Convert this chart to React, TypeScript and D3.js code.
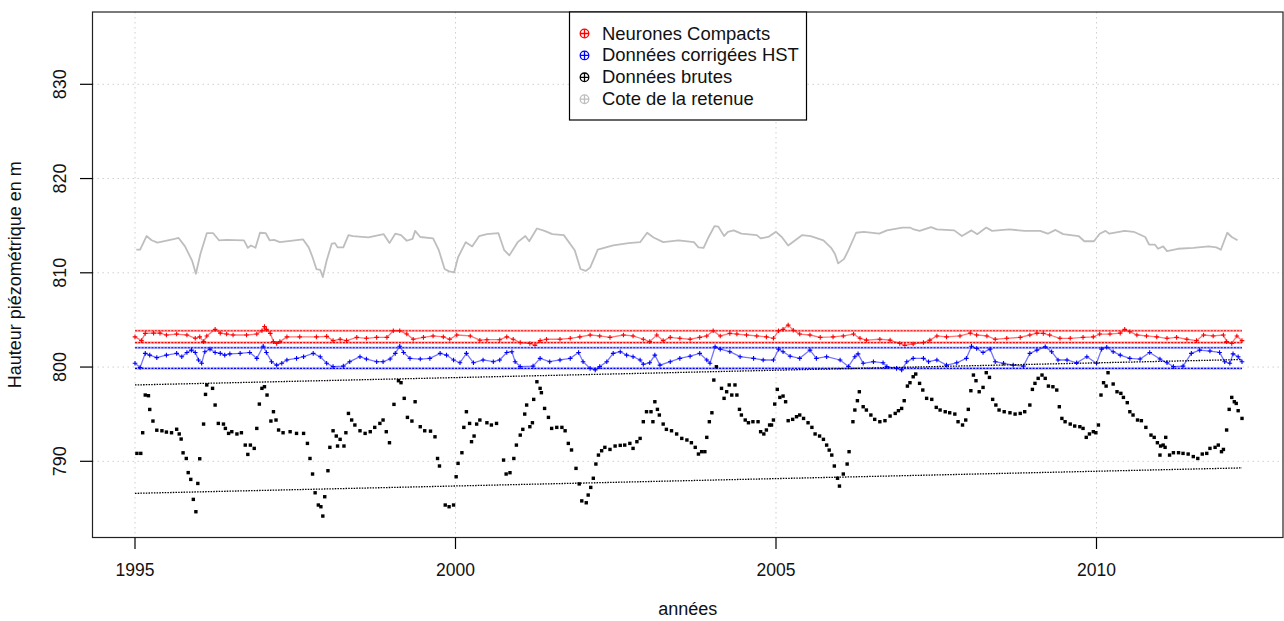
import React from "react";
import * as d3 from "d3";

// Reservoir level (Cote de la retenue), [year, m]
const retenue: [number, number][] = [
  [1995.02, 812.45], [1995.08, 812.45], [1995.18, 813.9], [1995.26, 813.45], [1995.35, 813.2],
  [1995.62, 813.6], [1995.68, 813.7], [1995.78, 812.8], [1995.89, 811.3], [1995.95, 809.9],
  [1996.02, 812.0], [1996.12, 814.2], [1996.22, 814.2], [1996.31, 813.45], [1996.43, 813.5],
  [1996.7, 813.45], [1996.76, 812.65], [1996.81, 812.9], [1996.88, 812.65], [1996.95, 814.25],
  [1997.04, 814.2], [1997.1, 813.45], [1997.17, 813.5], [1997.26, 813.25], [1997.62, 813.55],
  [1997.71, 812.7], [1997.77, 811.65], [1997.83, 810.4], [1997.89, 810.3], [1997.93, 809.55],
  [1997.99, 811.3], [1998.07, 813.1], [1998.12, 813.15], [1998.16, 812.7], [1998.25, 812.7],
  [1998.33, 814.0], [1998.4, 813.9], [1998.64, 813.75], [1998.88, 814.1], [1998.97, 813.15],
  [1999.06, 814.15], [1999.15, 814.0], [1999.24, 813.4], [1999.33, 813.6], [1999.37, 814.45],
  [1999.45, 813.8], [1999.65, 813.65], [1999.74, 812.4], [1999.83, 810.4], [1999.9, 810.15],
  [1999.98, 810.05], [2000.04, 811.65], [2000.16, 813.25], [2000.26, 812.8], [2000.37, 813.9],
  [2000.49, 814.1], [2000.67, 814.2], [2000.76, 812.4], [2000.84, 811.85], [2000.97, 813.25],
  [2001.09, 813.9], [2001.15, 813.35], [2001.27, 814.7], [2001.39, 814.45], [2001.51, 814.1],
  [2001.69, 814.0], [2001.86, 812.4], [2001.95, 810.4], [2002.03, 810.2], [2002.1, 810.55],
  [2002.22, 812.45], [2002.46, 812.9], [2002.7, 813.15], [2002.88, 813.25], [2002.99, 814.25],
  [2003.09, 813.75], [2003.24, 813.25], [2003.48, 813.45], [2003.72, 813.25], [2003.79, 812.7],
  [2003.87, 812.65], [2003.95, 813.8], [2004.04, 814.95], [2004.1, 814.9], [2004.19, 813.9],
  [2004.25, 814.35], [2004.34, 814.5], [2004.46, 814.15], [2004.7, 814.0], [2004.76, 813.65],
  [2004.88, 813.8], [2005.0, 814.35], [2005.09, 813.8], [2005.19, 812.9], [2005.3, 813.45],
  [2005.41, 814.0], [2005.54, 813.9], [2005.74, 813.45], [2005.86, 812.65], [2005.92, 812.0],
  [2005.97, 811.0], [2006.06, 811.45], [2006.13, 812.4], [2006.25, 814.25], [2006.37, 814.35],
  [2006.61, 814.15], [2006.73, 814.5], [2006.97, 814.8], [2007.09, 814.8], [2007.15, 814.6],
  [2007.24, 814.45], [2007.42, 814.85], [2007.51, 814.6], [2007.78, 814.5], [2007.9, 813.9],
  [2008.05, 814.5], [2008.14, 814.1], [2008.28, 814.8], [2008.37, 814.45], [2008.64, 814.6],
  [2008.88, 814.45], [2009.12, 814.45], [2009.24, 814.15], [2009.36, 814.55], [2009.48, 814.1],
  [2009.72, 813.9], [2009.81, 813.35], [2009.96, 813.35], [2010.05, 814.15], [2010.14, 814.45],
  [2010.2, 814.15], [2010.44, 814.45], [2010.58, 814.35], [2010.76, 813.8], [2010.82, 813.0],
  [2010.91, 813.0], [2010.96, 812.55], [2011.04, 812.8], [2011.1, 812.3], [2011.27, 812.55],
  [2011.51, 812.65], [2011.75, 812.8], [2011.87, 812.7], [2011.94, 812.45], [2012.04, 814.25],
  [2012.11, 813.8], [2012.2, 813.45],
];

// Neurones Compacts model output
const neurones: [number, number][] = [
  [1995.0, 803.2], [1995.1, 802.8], [1995.16, 803.57], [1995.29, 803.6], [1995.39, 803.6],
  [1995.49, 803.4], [1995.65, 803.5], [1995.81, 803.4], [1995.94, 803.05], [1996.01, 803.2],
  [1996.07, 802.7], [1996.12, 803.3], [1996.25, 804.0], [1996.33, 803.6], [1996.43, 803.5],
  [1996.53, 803.4], [1996.74, 803.4], [1996.9, 803.5], [1996.98, 803.85], [1997.02, 804.3],
  [1997.05, 804.0], [1997.11, 803.57], [1997.16, 802.7], [1997.21, 802.5], [1997.26, 802.7],
  [1997.37, 803.2], [1997.57, 803.2], [1997.83, 803.2], [1997.99, 803.25], [1998.09, 802.8],
  [1998.2, 802.95], [1998.3, 802.8], [1998.46, 803.15], [1998.61, 803.05], [1998.77, 803.15],
  [1998.93, 803.15], [1999.03, 803.85], [1999.13, 803.85], [1999.24, 803.5], [1999.34, 802.95],
  [1999.5, 803.15], [1999.65, 803.3], [1999.81, 803.2], [1999.91, 802.95], [2000.02, 803.4],
  [2000.23, 803.3], [2000.38, 802.85], [2000.49, 802.9], [2000.69, 802.9], [2000.8, 803.2],
  [2000.9, 802.95], [2001.01, 802.6], [2001.16, 802.5], [2001.24, 802.3], [2001.32, 802.8],
  [2001.42, 802.95], [2001.63, 802.95], [2001.79, 803.05], [2001.94, 803.2], [2002.1, 803.4],
  [2002.25, 803.3], [2002.41, 803.15], [2002.62, 803.4], [2002.77, 803.3], [2002.93, 802.95],
  [2003.03, 802.7], [2003.14, 803.4], [2003.24, 802.8], [2003.35, 803.15], [2003.5, 803.05],
  [2003.66, 802.95], [2003.81, 803.15], [2003.92, 803.3], [2004.02, 803.85], [2004.13, 803.3],
  [2004.28, 803.57], [2004.39, 803.5], [2004.54, 803.4], [2004.7, 803.3], [2004.85, 803.2],
  [2004.96, 803.05], [2005.04, 803.85], [2005.11, 804.0], [2005.19, 804.45], [2005.27, 803.9],
  [2005.37, 803.5], [2005.53, 803.4], [2005.69, 803.15], [2005.89, 803.2], [2006.05, 803.3],
  [2006.21, 803.5], [2006.31, 803.05], [2006.41, 802.86], [2006.62, 802.95], [2006.78, 802.86],
  [2006.93, 802.5], [2007.01, 802.3], [2007.14, 802.45], [2007.3, 802.6], [2007.4, 802.86],
  [2007.51, 803.3], [2007.66, 803.2], [2007.87, 803.3], [2008.03, 803.6], [2008.13, 803.4],
  [2008.29, 803.3], [2008.42, 802.95], [2008.6, 803.05], [2008.81, 803.15], [2008.96, 803.4],
  [2009.07, 803.6], [2009.17, 803.57], [2009.27, 803.4], [2009.43, 803.05], [2009.59, 803.05],
  [2009.79, 803.15], [2009.95, 803.2], [2010.05, 803.5], [2010.21, 803.5], [2010.37, 803.6],
  [2010.44, 804.0], [2010.52, 803.75], [2010.63, 803.4], [2010.78, 803.3], [2010.94, 803.2],
  [2011.1, 803.05], [2011.25, 803.15], [2011.41, 802.95], [2011.56, 802.8], [2011.67, 803.4],
  [2011.82, 803.3], [2011.98, 803.4], [2012.03, 802.7], [2012.11, 802.5], [2012.19, 803.3],
  [2012.27, 802.8],
];

// Données corrigées HST
const corrigees: [number, number][] = [
  [1995.0, 800.4], [1995.08, 799.95], [1995.16, 801.45], [1995.23, 801.27], [1995.34, 801.0],
  [1995.49, 801.27], [1995.65, 801.45], [1995.73, 801.1], [1995.81, 801.55], [1995.88, 801.8],
  [1995.94, 801.55], [1995.99, 800.75], [1996.04, 800.4], [1996.09, 801.63], [1996.17, 801.9],
  [1996.25, 801.55], [1996.33, 801.45], [1996.4, 801.27], [1996.48, 801.4], [1996.64, 801.45],
  [1996.79, 801.55], [1996.9, 800.92], [1997.0, 802.2], [1997.05, 801.55], [1997.13, 800.57],
  [1997.21, 800.2], [1997.29, 800.4], [1997.37, 800.75], [1997.52, 800.92], [1997.63, 801.1],
  [1997.78, 801.45], [1997.89, 801.1], [1997.99, 800.4], [1998.09, 800.05], [1998.25, 800.1],
  [1998.35, 800.57], [1998.51, 801.1], [1998.61, 800.85], [1998.77, 800.57], [1998.87, 800.57],
  [1998.98, 800.85], [1999.06, 801.45], [1999.13, 802.2], [1999.19, 801.55], [1999.29, 800.92],
  [1999.45, 800.85], [1999.6, 800.92], [1999.76, 801.45], [1999.86, 801.27], [1999.97, 800.75],
  [2000.07, 800.45], [2000.17, 801.45], [2000.28, 800.45], [2000.43, 800.75], [2000.59, 800.57],
  [2000.69, 800.75], [2000.8, 801.55], [2000.88, 801.63], [2000.93, 800.57], [2001.01, 800.05],
  [2001.21, 800.1], [2001.32, 800.92], [2001.47, 800.57], [2001.63, 800.75], [2001.79, 800.92],
  [2001.92, 801.55], [2001.99, 800.57], [2002.1, 799.86], [2002.18, 799.7], [2002.25, 800.05],
  [2002.36, 800.57], [2002.46, 801.45], [2002.57, 801.63], [2002.67, 801.27], [2002.77, 801.1],
  [2002.88, 800.75], [2002.93, 800.3], [2003.03, 800.45], [2003.11, 801.27], [2003.19, 800.2],
  [2003.35, 800.57], [2003.5, 800.92], [2003.66, 801.15], [2003.81, 801.45], [2003.92, 800.75],
  [2003.97, 800.4], [2004.05, 802.15], [2004.13, 801.9], [2004.28, 801.63], [2004.44, 801.1],
  [2004.65, 800.92], [2004.8, 800.75], [2004.96, 800.75], [2005.04, 801.9], [2005.11, 801.63],
  [2005.22, 801.15], [2005.37, 800.92], [2005.53, 801.8], [2005.63, 800.92], [2005.79, 801.1],
  [2006.0, 800.75], [2006.13, 800.05], [2006.23, 801.1], [2006.28, 801.4], [2006.36, 800.4],
  [2006.52, 800.57], [2006.67, 800.45], [2006.73, 800.05], [2006.88, 799.86], [2006.96, 799.7],
  [2007.04, 800.57], [2007.14, 800.92], [2007.3, 800.92], [2007.38, 800.57], [2007.51, 800.75],
  [2007.66, 800.2], [2007.82, 800.45], [2007.97, 800.92], [2008.05, 802.2], [2008.13, 801.97],
  [2008.23, 801.55], [2008.34, 801.9], [2008.42, 800.57], [2008.55, 800.4], [2008.7, 800.2],
  [2008.86, 800.1], [2008.96, 801.45], [2009.07, 801.8], [2009.2, 802.15], [2009.3, 801.63],
  [2009.4, 800.75], [2009.54, 800.75], [2009.69, 800.45], [2009.85, 801.1], [2010.0, 800.4],
  [2010.08, 801.9], [2010.16, 802.1], [2010.26, 801.63], [2010.37, 801.27], [2010.52, 800.92],
  [2010.68, 800.85], [2010.83, 801.55], [2010.99, 800.85], [2011.1, 800.45], [2011.2, 800.05],
  [2011.35, 800.1], [2011.48, 801.45], [2011.61, 801.8], [2011.77, 801.7], [2011.92, 801.55],
  [2012.0, 800.57], [2012.08, 800.4], [2012.13, 801.4], [2012.21, 801.1], [2012.27, 800.57],
];

// Données brutes
const brutes: [number, number][] = [
  [1995.03, 790.84], [1995.09, 790.84], [1995.12, 793.03], [1995.16, 797.03], [1995.21, 796.96],
  [1995.23, 795.5], [1995.28, 794.27], [1995.34, 793.3], [1995.42, 793.24], [1995.49, 793.1],
  [1995.57, 793.03], [1995.65, 793.4], [1995.69, 792.9], [1995.72, 792.36], [1995.75, 790.9],
  [1995.8, 790.3], [1995.83, 788.8], [1995.87, 788.08], [1995.91, 785.96], [1995.95, 784.65],
  [1995.98, 787.65], [1996.01, 790.27], [1996.07, 793.95], [1996.1, 797.1], [1996.12, 798.1],
  [1996.21, 797.74], [1996.25, 795.97], [1996.3, 794.02], [1996.38, 793.95], [1996.41, 793.49],
  [1996.46, 792.96], [1996.51, 793.14], [1996.59, 792.9], [1996.66, 793.03], [1996.72, 791.72],
  [1996.76, 790.73], [1996.8, 791.72], [1996.86, 791.37], [1996.9, 793.49], [1996.94, 796.07],
  [1996.98, 797.74], [1997.02, 797.91], [1997.06, 797.03], [1997.12, 794.27], [1997.16, 795.26],
  [1997.2, 794.38], [1997.24, 793.32], [1997.31, 793.03], [1997.42, 793.14], [1997.52, 792.96],
  [1997.63, 792.96], [1997.69, 791.9], [1997.73, 790.3], [1997.77, 788.65], [1997.81, 786.66],
  [1997.86, 785.36], [1997.9, 785.18], [1997.93, 784.19], [1997.96, 786.24], [1998.01, 789.0],
  [1998.04, 791.48], [1998.09, 793.24], [1998.14, 792.68], [1998.16, 791.62], [1998.2, 792.33],
  [1998.26, 791.62], [1998.29, 793.03], [1998.33, 795.08], [1998.38, 794.38], [1998.43, 793.85],
  [1998.51, 793.24], [1998.59, 792.96], [1998.67, 793.14], [1998.74, 793.6], [1998.82, 794.02],
  [1998.87, 794.38], [1998.92, 793.14], [1998.97, 791.97], [1999.04, 796.04], [1999.11, 798.55],
  [1999.15, 798.34], [1999.2, 796.68], [1999.25, 794.66], [1999.32, 794.27], [1999.37, 796.32],
  [1999.45, 793.67], [1999.52, 793.24], [1999.61, 793.2], [1999.68, 792.6], [1999.72, 790.3],
  [1999.75, 789.5], [1999.84, 785.36], [1999.9, 785.18], [1999.97, 785.36], [2000.01, 788.36],
  [2000.04, 789.78], [2000.1, 790.91], [2000.13, 793.6], [2000.17, 795.26], [2000.22, 794.02],
  [2000.25, 792.08], [2000.29, 792.68], [2000.33, 793.95], [2000.38, 794.38], [2000.49, 794.09],
  [2000.56, 793.85], [2000.64, 794.02], [2000.75, 790.13], [2000.79, 788.65], [2000.85, 788.79],
  [2000.91, 790.3], [2000.95, 791.72], [2001.01, 792.78], [2001.05, 793.39], [2001.08, 795.01],
  [2001.11, 795.97], [2001.16, 793.67], [2001.2, 794.09], [2001.22, 796.57], [2001.27, 798.44],
  [2001.32, 797.74], [2001.34, 797.28], [2001.39, 795.61], [2001.45, 794.66], [2001.5, 793.49],
  [2001.58, 793.6], [2001.66, 793.6], [2001.71, 793.24], [2001.76, 791.9], [2001.81, 791.2],
  [2001.88, 789.25], [2001.93, 787.6], [2001.97, 785.8], [2002.04, 785.6], [2002.07, 786.42],
  [2002.11, 787.23], [2002.15, 788.2], [2002.19, 789.71], [2002.23, 790.66], [2002.28, 791.12],
  [2002.33, 791.48], [2002.41, 791.26], [2002.49, 791.62], [2002.57, 791.69], [2002.64, 791.72],
  [2002.72, 791.9], [2002.77, 791.37], [2002.83, 792.08], [2002.88, 792.43], [2002.93, 794.2],
  [2002.98, 795.26], [2003.05, 795.26], [2003.08, 794.2], [2003.11, 796.32], [2003.15, 795.51],
  [2003.18, 794.91], [2003.24, 793.95], [2003.29, 793.39], [2003.37, 793.24], [2003.45, 792.9],
  [2003.53, 792.43], [2003.61, 792.26], [2003.68, 791.97], [2003.74, 791.48], [2003.79, 790.77],
  [2003.84, 791.02], [2003.89, 791.02], [2003.92, 792.54], [2003.96, 794.2], [2004.0, 795.15],
  [2004.03, 798.62], [2004.07, 800.03], [2004.15, 797.74], [2004.19, 796.68], [2004.23, 797.38],
  [2004.27, 798.1], [2004.31, 797.03], [2004.36, 798.1], [2004.39, 797.03], [2004.43, 795.51],
  [2004.46, 794.91], [2004.52, 794.38], [2004.57, 794.09], [2004.64, 794.2], [2004.72, 794.2],
  [2004.76, 793.14], [2004.81, 792.9], [2004.85, 793.32], [2004.9, 793.85], [2004.93, 793.85],
  [2004.96, 794.38], [2004.98, 796.07], [2005.02, 797.63], [2005.06, 796.78], [2005.11, 796.92],
  [2005.15, 796.32], [2005.19, 794.31], [2005.26, 794.45], [2005.32, 794.73], [2005.37, 794.91],
  [2005.43, 794.55], [2005.5, 794.09], [2005.56, 793.6], [2005.61, 792.9], [2005.68, 792.68],
  [2005.74, 792.33], [2005.79, 791.72], [2005.83, 791.19], [2005.87, 790.66], [2005.91, 789.5],
  [2005.96, 788.2], [2005.99, 787.37], [2006.05, 788.65], [2006.11, 789.71], [2006.14, 791.02],
  [2006.2, 794.2], [2006.23, 795.44], [2006.27, 796.43], [2006.3, 797.38], [2006.36, 795.79],
  [2006.41, 795.44], [2006.48, 794.91], [2006.54, 794.45], [2006.62, 794.2], [2006.7, 794.31],
  [2006.78, 794.8], [2006.86, 795.08], [2006.91, 795.37], [2006.96, 795.61], [2007.0, 796.43],
  [2007.05, 797.98], [2007.09, 798.34], [2007.14, 798.97], [2007.18, 799.26], [2007.24, 798.27],
  [2007.29, 797.56], [2007.35, 796.68], [2007.43, 796.57], [2007.5, 795.72], [2007.56, 795.44],
  [2007.64, 795.26], [2007.71, 795.15], [2007.79, 795.01], [2007.84, 794.2], [2007.91, 793.85],
  [2007.96, 794.38], [2008.0, 795.51], [2008.04, 797.49], [2008.08, 799.15], [2008.12, 798.55],
  [2008.17, 797.38], [2008.23, 797.84], [2008.28, 799.4], [2008.33, 798.9], [2008.38, 796.57],
  [2008.43, 795.97], [2008.48, 795.44], [2008.56, 795.26], [2008.65, 795.15], [2008.73, 795.01],
  [2008.81, 795.08], [2008.88, 795.26], [2008.96, 795.97], [2009.0, 797.63], [2009.04, 798.27],
  [2009.09, 798.8], [2009.15, 799.15], [2009.2, 798.8], [2009.25, 797.98], [2009.32, 797.91],
  [2009.38, 797.56], [2009.42, 795.79], [2009.46, 794.55], [2009.51, 794.2], [2009.59, 793.95],
  [2009.66, 793.74], [2009.74, 793.67], [2009.79, 793.49], [2009.84, 792.54], [2009.89, 792.9],
  [2009.95, 793.14], [2009.99, 793.03], [2010.03, 793.85], [2010.07, 797.03], [2010.11, 798.34],
  [2010.15, 797.98], [2010.18, 799.4], [2010.26, 798.2], [2010.32, 797.38], [2010.38, 797.21],
  [2010.42, 796.78], [2010.48, 796.22], [2010.52, 795.26], [2010.57, 794.91], [2010.64, 794.38],
  [2010.7, 794.31], [2010.77, 793.6], [2010.85, 792.78], [2010.9, 792.54], [2010.95, 791.97],
  [2010.99, 790.66], [2011.0, 791.62], [2011.04, 791.72], [2011.07, 791.48], [2011.08, 792.54],
  [2011.14, 790.66], [2011.2, 790.91], [2011.28, 790.91], [2011.35, 790.84], [2011.43, 790.77],
  [2011.51, 790.5], [2011.58, 790.3], [2011.65, 790.77], [2011.72, 790.84], [2011.77, 791.37],
  [2011.85, 791.48], [2011.9, 791.72], [2011.95, 791.02], [2011.98, 791.26], [2012.03, 793.32],
  [2012.07, 795.51], [2012.11, 796.78], [2012.15, 796.32], [2012.18, 796.14], [2012.21, 795.37],
  [2012.27, 794.55],
];

// Envelopes around the series (start / end of the record)
const bandYears = [1995.0, 2012.27];
const neuronesBand = [803.85, 802.6];
const corrigeesBand = [802.05, 799.85];
const brutesUpper = [798.1, 800.8];
const brutesLower = [786.6, 789.3];

const xTicks = [1995, 2000, 2005, 2010];
const yTicks = [790, 800, 810, 820, 830];

const legendItems = [
  { label: "Neurones Compacts", color: "#ff0000" },
  { label: "Données corrigées HST", color: "#0000ff" },
  { label: "Données brutes", color: "#000000" },
  { label: "Cote de la retenue", color: "#bebebe" },
];

const W = 1284;
const H = 621;
const frame = { left: 92.5, right: 1283, top: 12, bottom: 537.5 };
const FONT = "'Liberation Sans', Arial, sans-serif";

export default function App() {
  const x = d3.scaleLinear().domain([1995, 2010]).range([135, 1096.5]);
  const y = d3.scaleLinear().domain([790, 830]).range([461.3, 84.3]);

  const line = d3
    .line<[number, number]>()
    .x((d) => x(d[0]))
    .y((d) => y(d[1]));

  const plus = (cx: number, cy: number, s: number) =>
    `M${cx - s},${cy}H${cx + s}M${cx},${cy - s}V${cy + s}`;

  const hLine = (v: number) =>
    line([
      [bandYears[0], v],
      [bandYears[1], v],
    ]);

  const envLine = (vals: number[]) =>
    line([
      [bandYears[0], vals[0]],
      [bandYears[1], vals[1]],
    ]);

  const redPath = neurones.map((d) => plus(x(d[0]), y(d[1]), 2.3)).join("");
  const bluePath = corrigees.map((d) => plus(x(d[0]), y(d[1]), 2.3)).join("");

  return (
    <svg
      width={W}
      height={H}
      style={{ position: "absolute", left: 0, top: 0, display: "block", background: "#fff" }}
      fontFamily={FONT}
    >
      <rect x={0} y={0} width={W} height={H} fill="#fff" />

      {/* grid */}
      <g stroke="#cfcfcf" strokeWidth={1} strokeDasharray="1.5 3.5">
        {yTicks.map((t) => (
          <line key={"gy" + t} x1={frame.left} x2={frame.right} y1={y(t)} y2={y(t)} />
        ))}
        {xTicks.map((t) => (
          <line key={"gx" + t} x1={x(t)} x2={x(t)} y1={frame.top} y2={frame.bottom} />
        ))}
      </g>

      {/* reservoir level */}
      <path d={line(retenue) || ""} fill="none" stroke="#bebebe" strokeWidth={1.8} strokeLinejoin="round" />

      {/* Neurones Compacts envelope and values */}
      <g fill="none">
        {neuronesBand.map((v, i) => (
          <g key={"nb" + i}>
            <path d={hLine(v) || ""} stroke="#ffb0b0" strokeWidth={2.4} />
            <path d={hLine(v) || ""} stroke="#ff0000" strokeWidth={1.2} strokeDasharray="2 1.3" />
          </g>
        ))}
        <path d={line(neurones) || ""} stroke="#ff0000" strokeWidth={1.3} opacity={0.55} />
        <path d={redPath} stroke="#ff0000" strokeWidth={1.1} />
      </g>

      {/* Données corrigées HST envelope and values */}
      <g fill="none">
        {corrigeesBand.map((v, i) => (
          <g key={"cb" + i}>
            <path d={hLine(v) || ""} stroke="#b8b8ff" strokeWidth={2.6} />
            <path d={hLine(v) || ""} stroke="#0000ff" strokeWidth={1.2} strokeDasharray="2 1.3" />
          </g>
        ))}
        <path d={line(corrigees) || ""} stroke="#0000ff" strokeWidth={1.3} opacity={0.55} />
        <path d={bluePath} stroke="#0000ff" strokeWidth={1.1} />
      </g>

      {/* Données brutes envelope and values */}
      <g fill="none" stroke="#000">
        <path d={envLine(brutesUpper) || ""} strokeWidth={1.3} strokeDasharray="1.5 1.2" />
        <path d={envLine(brutesLower) || ""} strokeWidth={1.3} strokeDasharray="1.5 1.2" />
      </g>
      <g fill="#000">
        {brutes.map((d, i) => (
          <rect key={"b" + i} x={x(d[0]) - 1.7} y={y(d[1]) - 1.7} width={3.4} height={3.4} />
        ))}
      </g>

      {/* frame */}
      <rect
        x={frame.left}
        y={frame.top}
        width={frame.right - frame.left}
        height={frame.bottom - frame.top}
        fill="none"
        stroke="#222"
        strokeWidth={1.2}
      />

      {/* y axis */}
      <g>
        {yTicks.map((t) => (
          <g key={"yt" + t}>
            <line x1={80} x2={frame.left} y1={y(t)} y2={y(t)} stroke="#000" strokeWidth={1.2} />
            <text
              transform={`translate(66,${y(t)}) rotate(-90)`}
              textAnchor="middle"
              fontSize={18}
              fill="#111"
            >
              {t}
            </text>
          </g>
        ))}
        <text
          transform={`translate(20.5,${(frame.top + frame.bottom) / 2}) rotate(-90)`}
          textAnchor="middle"
          fontSize={18}
          fill="#111"
        >
          Hauteur piézométrique en m
        </text>
      </g>

      {/* x axis */}
      <g>
        {xTicks.map((t) => (
          <g key={"xt" + t}>
            <line x1={x(t)} x2={x(t)} y1={frame.bottom} y2={549} stroke="#000" strokeWidth={1.2} />
            <text x={x(t)} y={576} textAnchor="middle" fontSize={17.5} fill="#111">
              {t}
            </text>
          </g>
        ))}
        <text x={(frame.left + frame.right) / 2} y={615} textAnchor="middle" fontSize={18} fill="#111">
          années
        </text>
      </g>

      {/* legend */}
      <g>
        <rect x={569.5} y={12} width={237} height={108} fill="#fff" stroke="#000" strokeWidth={1.2} />
        {legendItems.map((it, i) => {
          const cy = 33.5 + i * 21.9;
          return (
            <g key={it.label}>
              <circle cx={584.5} cy={cy} r={4.3} fill="none" stroke={it.color} strokeWidth={1.3} />
              <path d={plus(584.5, cy, 4.3)} stroke={it.color} strokeWidth={1.3} />
              <text
                transform={`translate(602,${cy + 6}) scale(1.055,1)`}
                fontSize={17.5}
                fill="#111"
              >
                {it.label}
              </text>
            </g>
          );
        })}
      </g>
    </svg>
  );
}
